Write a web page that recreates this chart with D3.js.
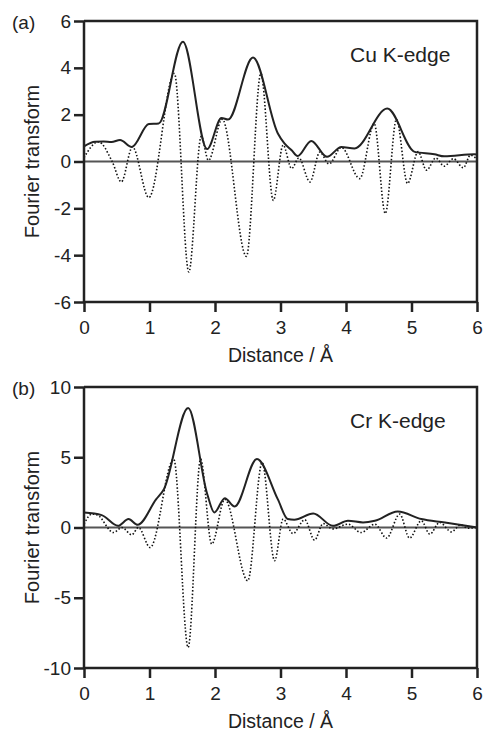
<!DOCTYPE html>
<meta charset="utf-8">
<script src="https://d3js.org/d3.v7.min.js"></script>
<style>
  body { margin: 0; background: #fff; }
  text { font-family: "Liberation Sans", Arial, sans-serif; fill: #222; }
</style>
<div id="chart"></div>
<script>

// ---- data ----
// (a) Cu K-edge : magnitude (solid) and imaginary part (dotted)
const cuMagX = [0, 0.17, 0.3, 0.42, 0.55, 0.73, 0.99, 1.14, 1.51, 1.88, 2.1, 2.2, 2.58, 2.96, 3.06, 3.17, 3.26, 3.47, 3.71, 3.93, 4.13, 4.63, 5.05, 5.35, 5.5, 5.96, 6];
const cuMagY = [0.65, 0.84, 0.85, 0.83, 0.92, 0.62, 1.6, 1.62, 5.11, 0.53, 1.86, 1.79, 4.44, 1.2, 0.77, 0.48, 0.23, 0.88, 0.2, 0.62, 0.56, 2.26, 0.41, 0.31, 0.22, 0.31, 0.3];

const cuImX = [0, 0.22, 0.43, 0.57, 0.74, 0.99, 1.38, 1.6, 1.79, 1.9, 2.11, 2.48, 2.7, 2.89, 3.04, 3.17, 3.28, 3.45, 3.6, 3.74, 3.93, 4.21, 4.43, 4.6, 4.77, 4.94, 5.1, 5.23, 5.37, 5.5, 5.64, 5.79, 5.9, 6];
const cuImY = [0.17, 0.84, 0, -0.87, 0.62, -1.54, 3.76, -4.72, 1.08, 0.05, 1.8, -4.05, 3.76, -1.66, 0.7, -0.3, 0.15, -0.87, 0.4, -0.1, 0.6, -0.73, 1.62, -2.22, 1.8, -0.94, 0.42, -0.37, 0.15, -0.2, 0.12, -0.27, 0.27, 0.1];

// (b) Cr K-edge
const crMagX = [0, 0.27, 0.52, 0.68, 0.82, 1.1, 1.22, 1.59, 1.88, 1.99, 2.15, 2.3, 2.64, 2.96, 3.11, 3.21, 3.5, 3.8, 4.03, 4.26, 4.44, 4.79, 5.15, 5.51, 6];
const crMagY = [1.07, 0.88, 0.12, 0.6, 0.19, 2.0, 2.73, 8.5, 2.4, 1.07, 2.09, 1.5, 4.87, 2.0, 0.6, 0.55, 1.0, 0.12, 0.48, 0.36, 0.48, 1.14, 0.6, 0.36, 0];

const crImX = [0, 0.12, 0.2, 0.45, 0.58, 0.73, 0.83, 1.01, 1.37, 1.59, 1.78, 1.95, 2.15, 2.5, 2.72, 2.91, 3.04, 3.19, 3.37, 3.52, 3.65, 3.8, 4.03, 4.23, 4.44, 4.62, 4.82, 4.97, 5.15, 5.28, 5.43, 5.61, 5.75, 5.86, 6];
const crImY = [0.24, 0.95, 0.9, -0.36, 0, -0.52, 0, -1.42, 4.87, -8.54, 4.87, -1.18, 2.0, -3.79, 4.63, -2.37, 0.6, -0.43, 0.55, -0.9, 0.28, -0.1, 0.24, -0.36, 0.24, -0.75, 0.95, -0.75, 0.48, -0.47, 0.36, -0.31, 0.19, -0.05, 0];

const xTicks = [0, 1, 2, 3, 4, 5, 6];
const panels = [
  {tag: "(a)", edge: "Cu K-edge", yDomain: [-6, 6], yTicks: [-6, -4, -2, 0, 2, 4, 6],
   top: 21, bottom: 302, mag: [cuMagX, cuMagY], im: [cuImX, cuImY]},
  {tag: "(b)", edge: "Cr K-edge", yDomain: [-10, 10], yTicks: [-10, -5, 0, 5, 10],
   top: 387, bottom: 668, mag: [crMagX, crMagY], im: [crImX, crImY]}
];

const W = 483, H = 732;
const left = 84, right = 477;

const svg = d3.select("#chart").append("svg")
  .attr("width", W).attr("height", H);

const x = d3.scaleLinear().domain([0, 6]).range([left, right]);

panels.forEach(p => {
  const y = d3.scaleLinear().domain(p.yDomain).range([p.bottom, p.top]);
  const g = svg.append("g");

  const line = d3.line()
    .x(d => x(d[0])).y(d => y(d[1]))
    .curve(d3.curveMonotoneX);

  // zero line
  g.append("line")
    .attr("x1", x(0)).attr("x2", x(6))
    .attr("y1", y(0)).attr("y2", y(0))
    .attr("stroke", "#555").attr("stroke-width", 2);

  // imaginary part (dotted)
  g.append("path")
    .datum(d3.zip(p.im[0], p.im[1]))
    .attr("d", line)
    .attr("fill", "none")
    .attr("stroke", "#111")
    .attr("stroke-width", 1.6)
    .attr("stroke-dasharray", "1.5,2")
    .attr("stroke-linecap", "butt");

  // magnitude (solid)
  g.append("path")
    .datum(d3.zip(p.mag[0], p.mag[1]))
    .attr("d", line)
    .attr("fill", "none")
    .attr("stroke", "#222")
    .attr("stroke-width", 2);

  // axes
  const ax = g.append("g")
    .attr("transform", `translate(0,${p.bottom})`)
    .call(d3.axisBottom(x).tickValues(xTicks).tickSize(10).tickPadding(9).tickFormat(d3.format("d")));
  const ay = g.append("g")
    .attr("transform", `translate(${left},0)`)
    .call(d3.axisLeft(y).tickValues(p.yTicks).tickSize(10).tickPadding(3).tickFormat(d => d < 0 ? "-" + Math.abs(d) : d));
  [ax, ay].forEach(a => {
    a.select(".domain").attr("stroke", "#222").attr("stroke-width", 2.5);
    a.selectAll(".tick line").attr("stroke", "#222").attr("stroke-width", 2.5);
    a.selectAll(".tick text").style("font-size", "19px").attr("fill", "#222");
  });
  ay.select(".domain").attr("d", `M0,${p.top}V${p.bottom}`);
  ax.select(".domain").attr("d", `M${left},0H${right}`);

  // frame: top and right
  g.append("path")
    .attr("d", `M${left},${p.top}H${right}V${p.bottom}`)
    .attr("fill", "none").attr("stroke", "#222").attr("stroke-width", 2.5);

  // labels
  g.append("text")
    .attr("x", (left + right) / 2).attr("y", p.bottom + 60)
    .attr("text-anchor", "middle").style("font-size", "19.5px")
    .text("Distance / Å");
  g.append("text")
    .attr("transform", `translate(39,${(p.top + p.bottom) / 2}) rotate(-90)`)
    .attr("text-anchor", "middle").style("font-size", "20px")
    .text("Fourier transform");
  g.append("text")
    .attr("x", 12).attr("y", p.top + 8)
    .style("font-size", "19px")
    .text(p.tag);
  g.append("text")
    .attr("x", 350).attr("y", p.top + 41)
    .style("font-size", "21px")
    .text(p.edge);
});

</script>
